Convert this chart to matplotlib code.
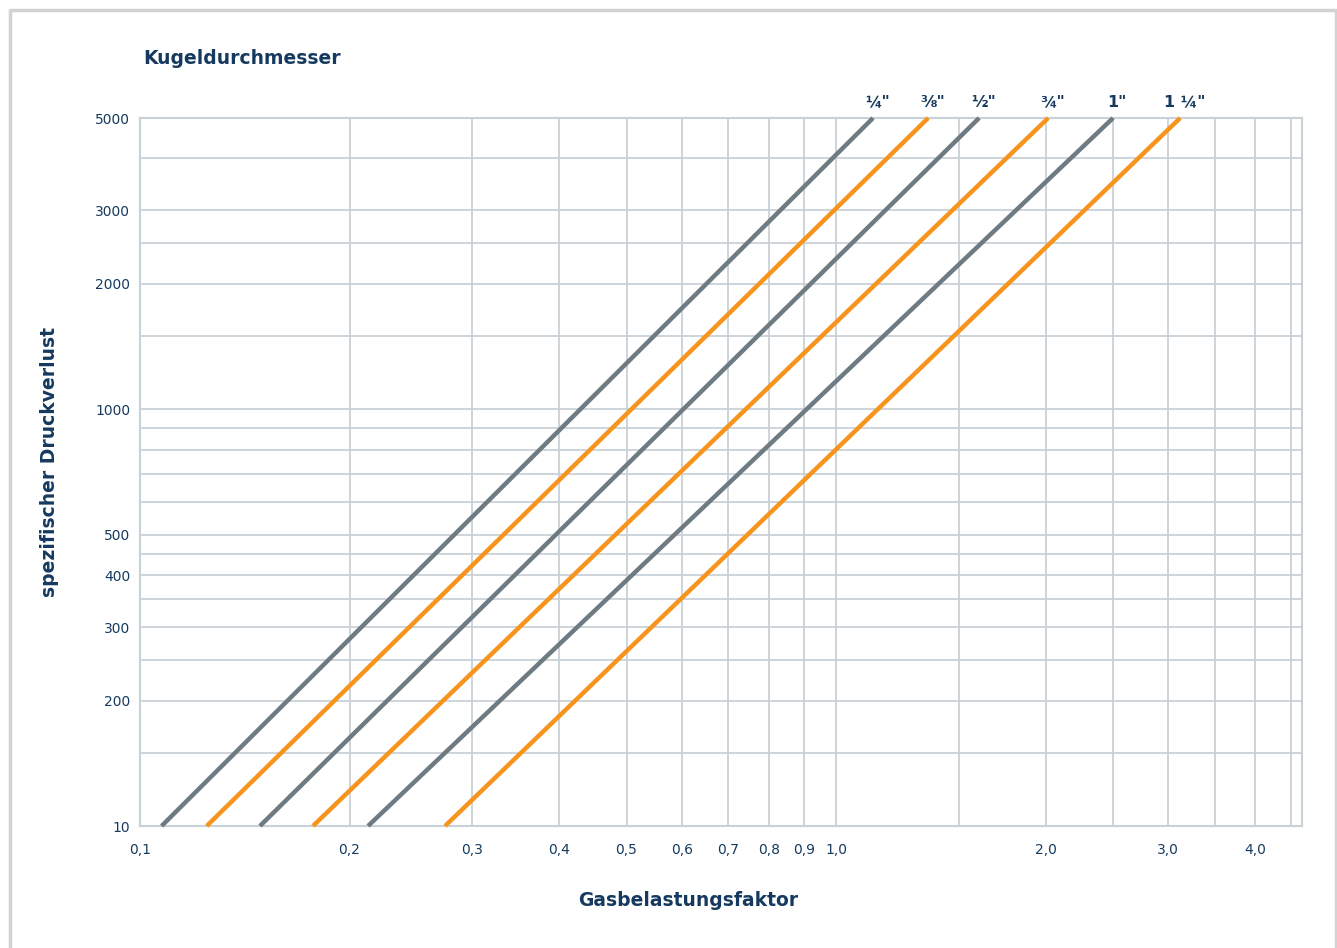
import matplotlib.pyplot as plt
from matplotlib.lines import Line2D
from matplotlib.ticker import FixedLocator, NullFormatter

plt.rcParams['font.family'] = ['DejaVu Sans']

# ball diameters and their flow factor at 100 and 5000 pressure loss
sizes = ['\u00bc"', '\u215c"', '\u00bd"', '\u00be"', '1"', '1 \u00bc"']
flow_at_low = [0.1074, 0.1247, 0.1487, 0.1772, 0.2126, 0.2743]
flow_at_high = [1.130, 1.356, 1.605, 2.017, 2.500, 3.121]
pressure_range = [100, 5000]
colors = ['#6e7b82', '#f7941e', '#6e7b82', '#f7941e', '#6e7b82', '#f7941e']

x_ticks = [0.1, 0.2, 0.3, 0.4, 0.5, 0.6, 0.7, 0.8, 0.9, 1.0, 2.0, 3.0, 4.0]
x_labels = ['0,1', '0,2', '0,3', '0,4', '0,5', '0,6', '0,7', '0,8', '0,9', '1,0', '2,0', '3,0', '4,0']
x_minor = [1.5, 2.5, 3.5, 4.5]
y_ticks = [100, 200, 300, 400, 500, 1000, 2000, 3000, 5000]
y_labels = ['10', '200', '300', '400', '500', '1000', '2000', '3000', '5000']
y_minor = [150, 250, 350, 450, 600, 700, 800, 900, 1500, 2500, 4000]

navy = '#163a5f'
grid_col = '#c9d1d8'

fig = plt.figure(figsize=(13.37, 9.48), dpi=100)
ax = fig.add_axes([140 / 1337, 1 - 826 / 948, (1302 - 140) / 1337, (826 - 118) / 948])

for lo, hi, c, name in zip(flow_at_low, flow_at_high, colors, sizes):
    ax.plot([lo, hi], pressure_range, color=c, lw=3.2, solid_capstyle='butt', zorder=3, clip_on=False)
    ax.annotate(name, xy=(hi, pressure_range[1]), xytext=(3, 6), textcoords='offset points',
                ha='center', va='bottom', fontsize=11.5, fontweight='bold', color=navy)

ax.set_xscale('log')
ax.set_yscale('log')
ax.set_xlim(0.1, 4.67)
ax.set_ylim(100, 5000)

ax.xaxis.set_major_locator(FixedLocator(x_ticks))
ax.xaxis.set_minor_locator(FixedLocator(x_minor))
ax.set_xticklabels(x_labels)
ax.xaxis.set_minor_formatter(NullFormatter())
ax.yaxis.set_major_locator(FixedLocator(y_ticks))
ax.yaxis.set_minor_locator(FixedLocator(y_minor))
ax.set_yticklabels(y_labels)
ax.yaxis.set_minor_formatter(NullFormatter())

ax.tick_params(axis='both', which='both', length=0, labelsize=10, labelcolor=navy)
ax.tick_params(axis='x', pad=12)
ax.tick_params(axis='y', pad=7)

ax.grid(True, which='both', color=grid_col, lw=1.3)
for s in ax.spines.values():
    s.set_color(grid_col)
    s.set_linewidth(1.5)

fig.text(143 / 1337, 1 - 58 / 948, 'Kugeldurchmesser', fontsize=13.5, fontweight='bold',
         color=navy, ha='left', va='center')
fig.text(50 / 1337, 1 - 462 / 948, 'spezifischer Druckverlust', fontsize=13.5, fontweight='bold',
         color=navy, ha='center', va='center', rotation=90)
fig.text(688 / 1337, 1 - 901 / 948, 'Gasbelastungsfaktor', fontsize=13.5, fontweight='bold',
         color=navy, ha='center', va='center')

# outer frame, open at the bottom
fx0, fx1, fy1 = 9.5 / 1337, 1335.5 / 1337, 1 - 9.5 / 948
fig.add_artist(Line2D([fx0, fx0, fx1, fx1], [-0.01, fy1, fy1, -0.01], color='#d3d3d3', lw=2.5,
                      transform=fig.transFigure))

fig.savefig('out.png', dpi=100)
